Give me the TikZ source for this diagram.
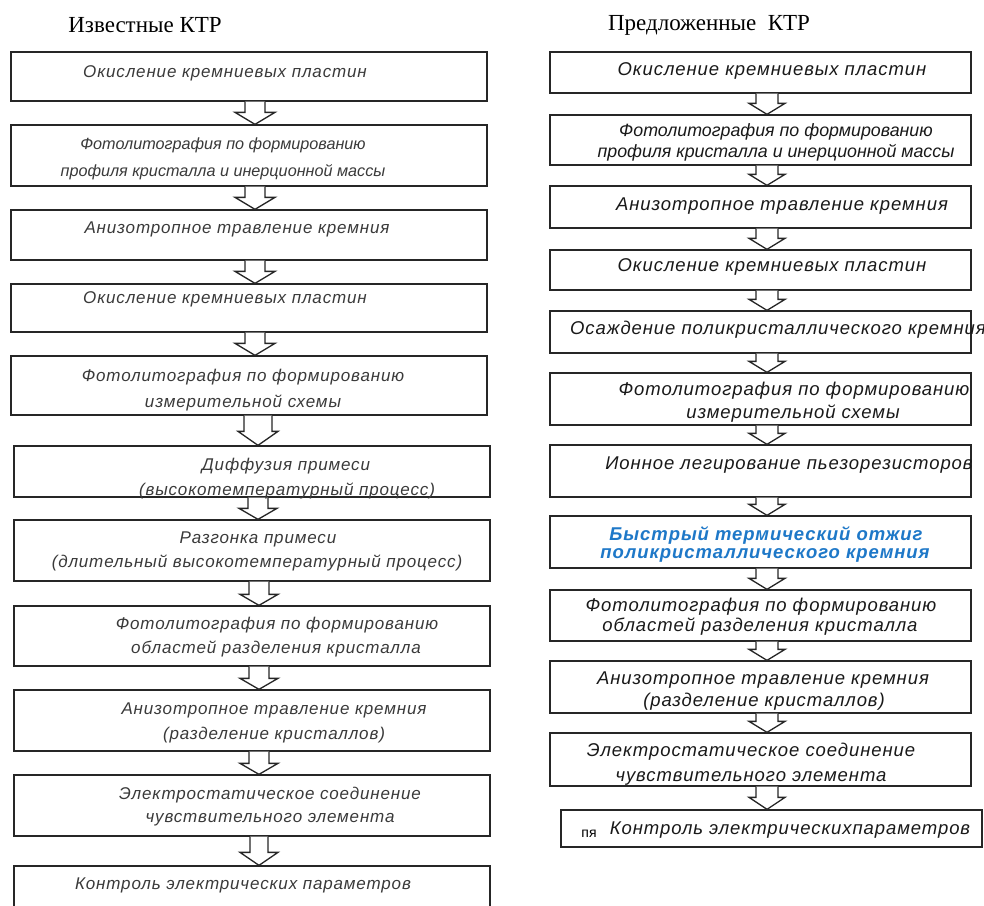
\documentclass[tikz,border=0pt]{standalone}
\usepackage{fontspec}
\setmainfont{Liberation Serif}
\newfontfamily\lftfont[LetterSpace=5]{Liberation Sans}
\newfontfamily\rgtfont[LetterSpace=5]{Liberation Sans}
\newfontfamily\plainsans{Liberation Sans}
\usetikzlibrary{calc}
\definecolor{lgray}{HTML}{3A3A3A}
\definecolor{rblue}{HTML}{1E78C8}
\tikzset{
  box/.style={draw=black!85, line width=1.3pt, inner sep=0pt, fill=none},
  ltxt/.style={inner sep=0pt, text=lgray, font=\lftfont\itshape\fontsize{17}{20}\selectfont},
  lsmall/.style={ltxt, font=\plainsans\itshape\fontsize{16.2}{19}\selectfont},
  rtxt/.style={inner sep=0pt, text=black!90, font=\rgtfont\itshape\fontsize{18.5}{22}\selectfont},
  rsmall/.style={rtxt, font=\plainsans\itshape\fontsize{17.8}{21}\selectfont},
  btxt/.style={inner sep=0pt, text=rblue, font=\rgtfont\bfseries\itshape\fontsize{18.5}{22}\selectfont},
  ttl/.style={inner sep=0pt, font=\fontsize{23}{26}\selectfont},
  arrowline/.style={draw=black!85, line width=1.3pt, line join=miter, fill=white}
}
\newcommand\bx[5]{\node[box, minimum width={#4-#2}, minimum height={#5-#3}] (#1) at ({(#2+#4)/2},{(#3+#5)/2}) {};}
% upper, lower, center x, shaft half, head half, head length
\newcommand\arr[6]{\draw[arrowline] let \p1=(#1.south), \p2=(#2.north) in
  (#3pt-#4pt,\y1) -- (#3pt-#4pt,\y2+#6pt) -- (#3pt-#5pt,\y2+#6pt) -- (#3pt,\y2)
  -- (#3pt+#5pt,\y2+#6pt) -- (#3pt+#4pt,\y2+#6pt) -- (#3pt+#4pt,\y1);}
\begin{document}
\begin{tikzpicture}[x=1pt,y=-1pt]
\clip (0,0) rectangle (984,905);
\fill[white] (0,0) rectangle (984,905);
% titles
\node[ttl] (tl) at (145,25) {Известные КТР};
\node[ttl] (tr) at (709,25) {Предложенные\ \ КТР};
% left boxes
\bx{L1}{11}{52}{487}{101}
\bx{L2}{11}{125}{487}{186}
\bx{L3}{11}{210}{487}{260}
\bx{L4}{11}{284}{487}{332}
\bx{L5}{11}{356}{487}{415}
\bx{L6}{14}{446}{490}{497}
\bx{L7}{14}{520}{490}{581}
\bx{L8}{14}{606}{490}{666}
\bx{L9}{14}{690}{490}{751}
\bx{L10}{14}{775}{490}{836}
\bx{L11}{14}{866}{490}{915}
% left arrows
\arr{L1}{L2}{255}{10}{20}{12}
\arr{L2}{L3}{255}{10}{20}{12}
\arr{L3}{L4}{255}{10}{20}{12}
\arr{L4}{L5}{255}{10}{20}{12}
\arr{L5}{L6}{258}{14}{20}{14}
\arr{L6}{L7}{258}{10}{19}{11}
\arr{L7}{L8}{259}{10}{19}{11}
\arr{L8}{L9}{259}{10}{19}{11}
\arr{L9}{L10}{259}{10}{19}{11}
\arr{L10}{L11}{259}{9}{19}{13}
% left texts
\node[ltxt] (l1) at (225,73) {Окисление кремниевых пластин};
\node[lsmall] (l2a) at (223,145) {Фотолитография по формированию};
\node[lsmall] (l2b) at (223,172) {профиля кристалла и инерционной массы};
\node[ltxt] (l3) at (237,229) {Анизотропное травление кремния};
\node[ltxt] (l4) at (225,299) {Окисление кремниевых пластин};
\node[ltxt] (l5a) at (243,377) {Фотолитография по формированию};
\node[ltxt] (l5b) at (243,403) {измерительной схемы};
\node[ltxt] (l6a) at (286,466) {Диффузия примеси};
\node[ltxt] (l6b) at (287,491) {(высокотемпературный процесс)};
\node[ltxt] (l7a) at (258,539) {Разгонка примеси};
\node[ltxt] (l7b) at (257,563) {(длительный высокотемпературный процесс)};
\node[ltxt] (l8a) at (277,625) {Фотолитография по формированию};
\node[ltxt] (l8b) at (276,649) {областей разделения кристалла};
\node[ltxt] (l9a) at (274,710) {Анизотропное травление кремния};
\node[ltxt] (l9b) at (274,735) {(разделение кристаллов)};
\node[ltxt] (l10a) at (270,795) {Электростатическое соединение};
\node[ltxt] (l10b) at (270,820) {чувствительного элемента};
\node[ltxt] (l11) at (243,885) {Контроль электрических параметров};
% right boxes
\bx{R1}{550}{52}{971}{93}
\bx{R2}{550}{115}{971}{165}
\bx{R3}{550}{186}{971}{228}
\bx{R4}{550}{250}{971}{290}
\bx{R5}{550}{311}{971}{353}
\bx{R6}{550}{373}{971}{425}
\bx{R7}{550}{445}{971}{497}
\bx{R8}{550}{516}{971}{568}
\bx{R9}{550}{590}{971}{641}
\bx{R10}{550}{661}{971}{713}
\bx{R11}{550}{733}{971}{786}
\bx{R12}{561}{810}{982}{847}
% right arrows
\arr{R1}{R2}{767}{11}{18}{11}
\arr{R2}{R3}{767}{11}{18}{11}
\arr{R3}{R4}{767}{11}{18}{11}
\arr{R4}{R5}{767}{11}{18}{11}
\arr{R5}{R6}{767}{11}{18}{11}
\arr{R6}{R7}{767}{11}{18}{11}
\arr{R7}{R8}{767}{11}{18}{11}
\arr{R8}{R9}{767}{11}{18}{11}
\arr{R9}{R10}{767}{11}{18}{11}
\arr{R10}{R11}{767}{11}{18}{11}
\arr{R11}{R12}{767}{11}{18}{12}
% right texts
\node[rtxt] (r1) at (772,71) {Окисление кремниевых пластин};
\node[rsmall] (r2a) at (776,132) {Фотолитография по формированию};
\node[rsmall] (r2b) at (776,153) {профиля кристалла и инерционной массы};
\node[rtxt] (r3) at (782,206) {Анизотропное травление кремния};
\node[rtxt] (r4) at (772,267) {Окисление кремниевых пластин};
\node[rtxt] (r5) at (778,330) {Осаждение поликристаллического кремния};
\node[rtxt] (r6a) at (794,391) {Фотолитография по формированию};
\node[rtxt] (r6b) at (793,414) {измерительной схемы};
\node[rtxt] (r7) at (789,465) {Ионное легирование пьезорезисторов};
\node[btxt] (r8a) at (766,535) {Быстрый термический отжиг};
\node[btxt] (r8b) at (765,555) {поликристаллического кремния};
\node[rtxt] (r9a) at (761,607) {Фотолитография по формированию};
\node[rtxt] (r9b) at (760,627) {областей разделения кристалла};
\node[rtxt] (r10a) at (763,680) {Анизотропное травление кремния};
\node[rtxt] (r10b) at (764,702) {(разделение кристаллов)};
\node[rtxt] (r11a) at (751,752) {Электростатическое соединение};
\node[rtxt] (r11b) at (751,778) {чувствительного элемента};
\node[inner sep=0pt, font=\plainsans\fontsize{14}{16}\selectfont] (r12p) at (589,834) {пя};
\node[rtxt] (r12) at (790,830) {Контроль электрическихпараметров};
\end{tikzpicture}
\end{document}
